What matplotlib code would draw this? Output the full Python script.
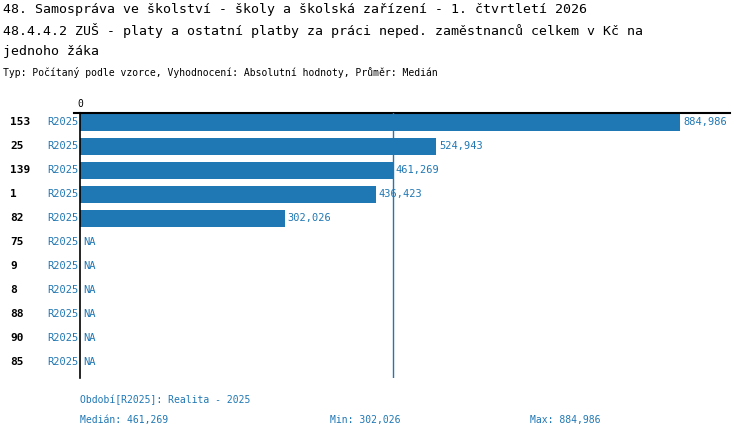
import matplotlib.pyplot as plt
from matplotlib.transforms import blended_transform_factory

ids = ["153", "25", "139", "1", "82", "75", "9", "8", "88", "90", "85"]
periods = ["R2025"] * 11
values = [884986, 524943, 461269, 436423, 302026, None, None, None, None, None, None]
median = 461269
vmin = 302026
vmax = 884986

blue = "#1f77b4"
font = "DejaVu Sans Mono"
plt.rcParams["font.family"] = font

W, H = 750, 438
fig = plt.figure(figsize=(W / 100, H / 100), dpi=100)
left, right, top, bottom = 80, 730, 113, 378
ax = fig.add_axes([left / W, 1 - bottom / H, (right - left) / W, (bottom - top) / H])
scale = 600 / vmax
ax.set_xlim(0, (right - left) / scale)
ax.set_ylim(bottom, top)
for s in ["top", "right", "bottom"]:
    ax.spines[s].set_visible(False)
ax.spines["left"].set_linewidth(1.2)
ax.spines["left"].set_color("black")
ax.set_xticks([])
ax.set_yticks([])
ax.axhline(top, color="black", lw=1.5, xmin=0, xmax=1, clip_on=False)
ax.plot([-6 / scale, 0], [top, top], color="black", lw=1.5, clip_on=False)
ax.axvline(median, color=blue, lw=1)
ax.text(0, top - 4, "0", ha="center", va="bottom", fontsize=7)

trans_fig_x = blended_transform_factory(fig.transFigure, ax.transData)
for i, (lab, per, v) in enumerate(zip(ids, periods, values)):
    y = 122 + 24 * i
    ax.text(10 / W, y, lab, transform=trans_fig_x, fontsize=8, fontweight="bold", va="center")
    ax.text(47 / W, y, per, transform=trans_fig_x, fontsize=7.5, color=blue, va="center")
    if v is None:
        ax.text(3 / scale, y, "NA", fontsize=7.5, color=blue, va="center")
    else:
        ax.barh(y, v, height=17, color=blue)
        ax.text(v + 3 / scale, y, f"{v:,}", fontsize=7.5, color=blue, va="center")

fig.text(3 / W, 1 - 9 / H, "48. Samospráva ve školství - školy a školská zařízení - 1. čtvrtletí 2026",
         fontsize=9.5, va="center")
fig.text(3 / W, 1 - 31 / H, "48.4.4.2 ZUŠ - platy a ostatní platby za práci neped. zaměstnanců celkem v Kč na",
         fontsize=9.5, va="center")
fig.text(3 / W, 1 - 52 / H, "jednoho žáka", fontsize=9.5, va="center")
fig.text(3 / W, 1 - 73 / H, "Typ: Počítaný podle vzorce, Vyhodnocení: Absolutní hodnoty, Průměr: Medián",
         fontsize=7, va="center")
fig.text(80 / W, 1 - 400 / H, "Období[R2025]: Realita - 2025", fontsize=7, color=blue, va="center")
fig.text(80 / W, 1 - 420 / H, f"Medián: {median:,}", fontsize=7, color=blue, va="center")
fig.text(330 / W, 1 - 420 / H, f"Min: {vmin:,}", fontsize=7, color=blue, va="center")
fig.text(530 / W, 1 - 420 / H, f"Max: {vmax:,}", fontsize=7, color=blue, va="center")

fig.savefig("out.png", dpi=100)
